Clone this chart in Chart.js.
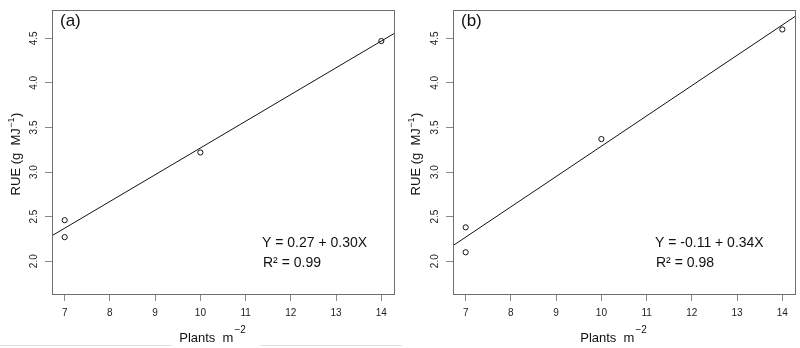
<!DOCTYPE html>
<html lang="en">
<head>
<meta charset="UTF-8">
<title>RUE vs plant density</title>
<style>
  body { margin: 0; background: #fff; }
  .wrap { position: relative; width: 800px; height: 348px; overflow: hidden; }
  .panel { position: absolute; top: 0; width: 400px; height: 348px; }
  #panel-a { left: 0; }
  #panel-b { left: 400px; }
  .rule { position: absolute; top: 345px; height: 1px; background: #e0e0e0; }
</style>
</head>
<body>
<div class="wrap">
  <div class="panel" id="panel-a"><canvas id="chart-a"></canvas></div>
  <div class="panel" id="panel-b"><canvas id="chart-b"></canvas></div>
  <div class="rule" style="left:0;width:172px"></div>
  <div class="rule" style="left:260px;width:142px"></div>
</div>

<script src="https://cdn.jsdelivr.net/npm/chart.js"></script>
<script>
// axes
const xTicks = [7, 8, 9, 10, 11, 12, 13, 14];
const yTicks = [2.0, 2.5, 3.0, 3.5, 4.0, 4.5];
const xRange = [6.72, 14.28];
const yRange = [1.632, 4.818];

// panel (a)
const densityA = [7, 7, 10, 14];
const rueA = [2.46, 2.27, 3.22, 4.47];
const fitA = [0.27, 0.30];   // intercept, slope
const r2A = 0.99;

// panel (b)
const densityB = [7, 7, 10, 14];
const rueB = [2.38, 2.10, 3.37, 4.60];
const fitB = [-0.11, 0.34];
const r2B = 0.98;

const FONT = "'Liberation Sans', Arial, sans-serif";

// frame, axis titles and text labels (R style)
const decorPlugin = {
    id: 'decor',
    afterDraw(chart, args, opts) {
        const { ctx, chartArea: a } = chart;
        ctx.save();

        // box around the plot
        ctx.strokeStyle = '#6e6e6e';
        ctx.lineWidth = 1;
        ctx.strokeRect(a.left + 0.5, a.top + 0.5, a.right - a.left, a.bottom - a.top);

        ctx.fillStyle = '#111';
        ctx.textBaseline = 'alphabetic';

        // x title: Plants  m^-2
        ctx.font = `13px ${FONT}`;
        const main = 'Plants  m';
        const w1 = ctx.measureText(main).width;
        ctx.font = `10px ${FONT}`;
        const w2 = ctx.measureText('\u22122').width;
        let sx = (a.left + a.right) / 2 - 11 - (w1 + w2) / 2;
        ctx.font = `13px ${FONT}`;
        ctx.textAlign = 'left';
        ctx.fillText(main, sx, 341.5);
        ctx.font = `10px ${FONT}`;
        ctx.fillText('\u22122', sx + w1 + 1, 333);

        // y title: RUE (g  MJ^-1)
        ctx.save();
        ctx.translate(20, (a.top + a.bottom) / 2 + 2);
        ctx.rotate(-Math.PI / 2);
        ctx.font = `13px ${FONT}`;
        const p1 = 'RUE (g  MJ';
        const q1 = ctx.measureText(p1).width;
        ctx.font = `9px ${FONT}`;
        const q2 = ctx.measureText('\u22121').width;
        ctx.font = `13px ${FONT}`;
        const q3 = ctx.measureText(')').width;
        let sy = -(q1 + q2 + q3 + 1) / 2;
        ctx.fillText(p1, sy, 0);
        ctx.font = `9px ${FONT}`;
        ctx.fillText('\u22121', sy + q1 + 0.5, -6);
        ctx.font = `13px ${FONT}`;
        ctx.fillText(')', sy + q1 + q2 + 1, 0);
        ctx.restore();

        // panel tag
        ctx.font = `17px ${FONT}`;
        ctx.textBaseline = 'middle';
        ctx.fillText(opts.tag, a.left + 8, 21);

        // regression equation
        const [b0, b1] = opts.fit;
        ctx.font = `14px ${FONT}`;
        ctx.fillText(`Y = ${b0.toFixed(2)} + ${b1.toFixed(2)}X`, opts.eqX, 243.5);
        ctx.fillText('R\u00b2 = ' + opts.r2.toFixed(2), opts.eqX + 1, 263.5);

        ctx.restore();
    }
};

const makeChart = (canvasId, tag, xs, ys, fit, r2, leftW, padRight, eqX) => {
    const points = xs.map((x, i) => ({ x: x, y: ys[i] }));
    const line = xRange.map(x => ({ x: x, y: fit[0] + fit[1] * x }));

    const tickGrid = {
        display: true,
        drawOnChartArea: false,
        drawTicks: true,
        tickLength: 7,
        color: '#8a8a8a',
        lineWidth: 1
    };

    return new Chart(document.getElementById(canvasId), {
        type: 'scatter',
        data: {
            datasets: [{
                data: points,
                pointStyle: 'circle',
                pointRadius: 2.6,
                pointBorderWidth: 1,
                pointBorderColor: '#111',
                pointBackgroundColor: 'rgba(0,0,0,0)',
                showLine: false
            }, {
                data: line,
                showLine: true,
                borderColor: '#111',
                borderWidth: 1,
                pointRadius: 0,
                fill: false
            }]
        },
        options: {
            responsive: true,
            maintainAspectRatio: false,
            animation: false,
            events: [],
            layout: { padding: { top: 3, right: padRight, bottom: 0, left: 0 } },
            plugins: {
                legend: { display: false },
                tooltip: { enabled: false },
                decor: { tag: tag, fit: fit, r2: r2, eqX: eqX }
            },
            scales: {
                x: {
                    type: 'linear',
                    min: xRange[0],
                    max: xRange[1],
                    afterBuildTicks: s => { s.ticks = xTicks.map(v => ({ value: v })); },
                    afterFit: s => { s.height = 54; },
                    grid: tickGrid,
                    border: { display: false },
                    ticks: {
                        autoSkip: false,
                        maxRotation: 0,
                        padding: 6,
                        color: '#222',
                        font: { family: FONT, size: 10 },
                        callback: v => String(v)
                    }
                },
                y: {
                    type: 'linear',
                    min: yRange[0],
                    max: yRange[1],
                    afterBuildTicks: s => { s.ticks = yTicks.map(v => ({ value: v })); },
                    afterFit: s => { s.width = leftW; },
                    grid: tickGrid,
                    border: { display: false },
                    ticks: {
                        autoSkip: false,
                        minRotation: 90,
                        maxRotation: 90,
                        crossAlign: 'center',
                        padding: 4,
                        color: '#222',
                        font: { family: FONT, size: 10 },
                        callback: v => v.toFixed(1)
                    }
                }
            }
        },
        plugins: [decorPlugin]
    });
};

makeChart('chart-a', '(a)', densityA, rueA, fitA, r2A, 52, 6, 262);
makeChart('chart-b', '(b)', densityB, rueB, fitB, r2B, 53, 3, 255);
</script>
</body>
</html>
